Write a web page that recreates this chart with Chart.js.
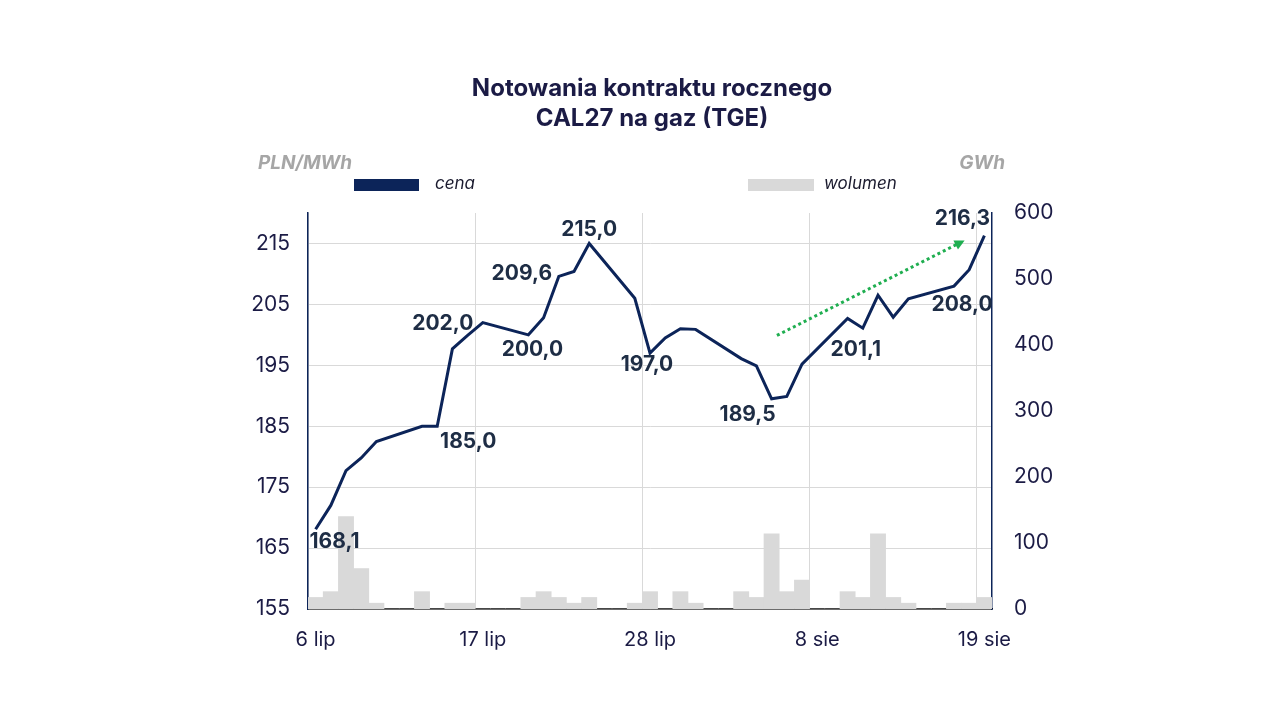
<!DOCTYPE html>
<html>
<head>
<meta charset="utf-8">
<script src="https://cdn.jsdelivr.net/npm/chart.js@4.4.1/dist/chart.umd.min.js"></script>
<style>
  html, body { margin: 0; padding: 0; background: #fff; }
  #chart { display: block; }
</style>
</head>
<body>
<canvas id="chart" width="1280" height="720"></canvas>
<script>
// Trading days from 6 lip to 19 sie (weekends have no quote)
const dates = [
    '6 lip', '7 lip', '8 lip', '9 lip', '10 lip', '11 lip', '12 lip',
    '13 lip', '14 lip', '15 lip', '16 lip', '17 lip', '18 lip', '19 lip',
    '20 lip', '21 lip', '22 lip', '23 lip', '24 lip', '25 lip', '26 lip',
    '27 lip', '28 lip', '29 lip', '30 lip', '31 lip', '1 sie', '2 sie',
    '3 sie', '4 sie', '5 sie', '6 sie', '7 sie', '8 sie', '9 sie',
    '10 sie', '11 sie', '12 sie', '13 sie', '14 sie', '15 sie', '16 sie',
    '17 sie', '18 sie', '19 sie'
];

// cena, PLN/MWh
const price = [
    168.1, 172.0, 177.7, 179.8, 182.5, null, null,
    185.0, 185.0, 197.7, 199.9, 202.0, null, null,
    200.0, 202.8, 209.6, 210.4, 215.0, null, null,
    206.0, 197.0, 199.5, 201.0, 200.9, null, null,
    196.1, 194.9, 189.5, 189.9, 195.2, null, null,
    202.7, 201.1, 206.5, 202.9, 205.9, null, null,
    208.0, 210.7, 216.3
];

// wolumen, GWh
const volume = [
    17.5, 26.3, 140.2, 61.3, 8.8, 0, 0,
    26.3, 0, 8.8, 8.8, 0, 0, 0,
    17.5, 26.3, 17.5, 8.8, 17.5, 0, 0,
    8.8, 26.3, 0, 26.3, 8.8, 0, 0,
    26.3, 17.5, 113.9, 26.3, 43.8, 0, 0,
    26.3, 17.5, 113.9, 17.5, 8.8, 0, 0,
    8.8, 8.8, 17.5
];

const xTickLabels = ['6 lip', '17 lip', '28 lip', '8 sie', '19 sie'];
const priceTicks = [155, 165, 175, 185, 195, 205, 215];
const volumeTicks = [0, 100, 200, 300, 400, 500, 600];

// which points get a value label, and where it sits relative to the point
const labelled = [
    { i: 0,  dx: 19,  dy: 12 },
    { i: 8,  dx: 31,  dy: 15 },
    { i: 11, dx: -40, dy: 1 },
    { i: 14, dx: 4,   dy: 15 },
    { i: 16, dx: -37, dy: -3 },
    { i: 18, dx: 0,   dy: -14 },
    { i: 22, dx: -3,  dy: 12 },
    { i: 30, dx: -24, dy: 16 },
    { i: 36, dx: -7,  dy: 22 },
    { i: 42, dx: 8,   dy: 19 },
    { i: 44, dx: -22, dy: -17 }
];

// dotted trend arrow, in (day index, PLN/MWh)
const trendFrom = [30.35, 199.9];
const trendTo = [42.7, 215.5];

const NAVY = '#0c2459';
const TEXT = '#1b1b45';
const FONT = 'Inter, "Liberation Sans", Arial, sans-serif';

const decorPlugin = {
    id: 'decor',
    beforeDraw(chart) {
        const ctx = chart.ctx;
        ctx.save();
        ctx.fillStyle = '#fff';
        ctx.fillRect(0, 0, chart.width, chart.height);
        ctx.restore();
    },
    afterDatasetsDraw(chart) {
        const ctx = chart.ctx;
        const x = chart.scales.x;
        const y = chart.scales.y;

        // trend arrow
        const x0 = x.getPixelForValue(trendFrom[0]), y0 = y.getPixelForValue(trendFrom[1]);
        const x1 = x.getPixelForValue(trendTo[0]), y1 = y.getPixelForValue(trendTo[1]);
        const ang = Math.atan2(y1 - y0, x1 - x0);
        ctx.save();
        ctx.strokeStyle = '#1fae50';
        ctx.fillStyle = '#1fae50';
        ctx.lineWidth = 3;
        ctx.setLineDash([3, 3]);
        ctx.beginPath();
        ctx.moveTo(x0, y0);
        ctx.lineTo(x1 - 8 * Math.cos(ang), y1 - 8 * Math.sin(ang));
        ctx.stroke();
        ctx.setLineDash([]);
        ctx.beginPath();
        ctx.moveTo(x1, y1);
        ctx.lineTo(x1 - 10 * Math.cos(ang) + 5 * Math.sin(ang), y1 - 10 * Math.sin(ang) - 5 * Math.cos(ang));
        ctx.lineTo(x1 - 10 * Math.cos(ang) - 5 * Math.sin(ang), y1 - 10 * Math.sin(ang) + 5 * Math.cos(ang));
        ctx.closePath();
        ctx.fill();
        ctx.restore();

        // value labels
        ctx.save();
        ctx.font = 'bold 21px ' + FONT;
        ctx.fillStyle = '#1e2d45';
        ctx.textAlign = 'center';
        ctx.textBaseline = 'middle';
        labelled.forEach(l => {
            const px = x.getPixelForValue(l.i);
            const py = y.getPixelForValue(price[l.i]);
            ctx.fillText(price[l.i].toFixed(1).replace('.', ','), px + l.dx, py + l.dy);
        });
        ctx.restore();
    },
    afterDraw(chart) {
        const ctx = chart.ctx;
        ctx.save();
        // title
        ctx.fillStyle = TEXT;
        ctx.font = 'bold 24px ' + FONT;
        ctx.textAlign = 'center';
        ctx.textBaseline = 'middle';
        ctx.fillText('Notowania kontraktu rocznego', 652, 89);
        ctx.fillText('CAL27 na gaz (TGE)', 652, 119);

        // axis units
        ctx.fillStyle = '#a6a6a6';
        ctx.font = 'italic bold 19px ' + FONT;
        ctx.textAlign = 'left';
        ctx.fillText('PLN/MWh', 258, 163);
        ctx.textAlign = 'right';
        ctx.fillText('GWh', 1005, 163);

        // legend
        ctx.fillStyle = NAVY;
        ctx.fillRect(354, 179, 65, 12);
        ctx.fillStyle = '#d9d9d9';
        ctx.fillRect(748, 179, 66, 12);
        ctx.fillStyle = '#1a1a2e';
        ctx.font = 'italic 17px ' + FONT;
        ctx.textAlign = 'left';
        ctx.fillText('cena', 435, 184);
        ctx.fillText('wolumen', 824, 184);
        ctx.restore();
    }
};

new Chart(document.getElementById('chart'), {
    type: 'bar',
    data: {
        labels: dates,
        datasets: [{
            type: 'line',
            label: 'cena',
            data: price,
            yAxisID: 'y',
            borderColor: NAVY,
            borderWidth: 3,
            pointRadius: 0,
            tension: 0,
            spanGaps: true,
            order: 0
        }, {
            type: 'bar',
            label: 'wolumen',
            data: volume,
            yAxisID: 'y1',
            backgroundColor: '#d9d9d9',
            barPercentage: 1,
            categoryPercentage: 1,
            order: 1
        }]
    },
    options: {
        responsive: false,
        animation: false,
        layout: {
            padding: { top: 213, left: 0, right: 0, bottom: 0 }
        },
        plugins: {
            legend: { display: false },
            title: { display: false },
            tooltip: { enabled: false }
        },
        scales: {
            x: {
                offset: true,
                grid: {
                    offset: true,
                    drawTicks: false,
                    color: ctx => (ctx.index !== undefined && ctx.index % 11 === 0) ? '#d9d9d9' : 'rgba(0,0,0,0)'
                },
                border: { color: '#000', width: 1.5 },
                ticks: {
                    autoSkip: false,
                    maxRotation: 0,
                    padding: 19,
                    color: TEXT,
                    font: { family: FONT, size: 20 },
                    callback: function(value) {
                        const lab = this.getLabelForValue(value);
                        return xTickLabels.includes(lab) ? lab : '';
                    }
                },
                afterFit: s => { s.height = 111; }
            },
            y: {
                position: 'left',
                min: 155,
                max: 220,
                afterBuildTicks: s => { s.ticks = priceTicks.map(v => ({ value: v })); },
                afterFit: s => { s.width = 308; },
                grid: { color: '#d9d9d9', drawTicks: false },
                border: { color: NAVY, width: 1.5 },
                ticks: {
                    padding: 18,
                    color: TEXT,
                    font: { family: FONT, size: 21 }
                }
            },
            y1: {
                position: 'right',
                min: 0,
                max: 600,
                afterBuildTicks: s => { s.ticks = volumeTicks.map(v => ({ value: v })); },
                afterFit: s => { s.width = 288; },
                grid: { display: false, drawTicks: false },
                border: { color: NAVY, width: 1.5 },
                ticks: {
                    padding: 22,
                    color: TEXT,
                    font: { family: FONT, size: 21 }
                }
            }
        }
    },
    plugins: [decorPlugin]
});
</script>
</body>
</html>
